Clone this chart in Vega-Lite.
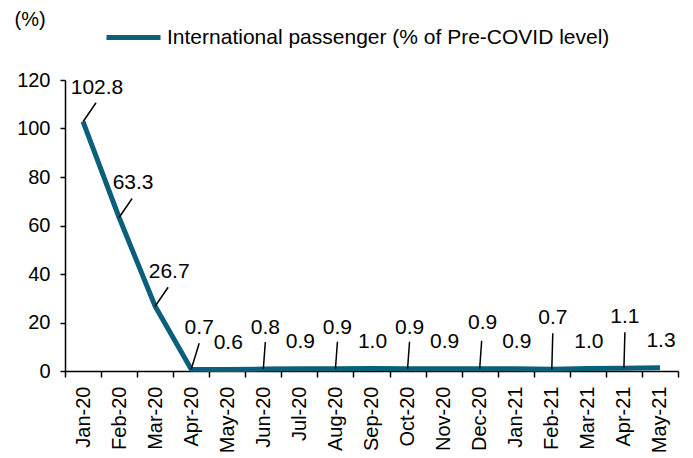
{
  "$schema": "https://vega.github.io/schema/vega-lite/v6.json",
  "width": 613,
  "height": 291,
  "autosize": "none",
  "padding": {"left": 65, "top": 80, "right": 15, "bottom": 87},
  "background": "white",
  "config": {
    "font": "Liberation Sans",
    "view": {"stroke": null},
    "axis": {"grid": false, "labelColor": "#000", "domainColor": "#000", "tickColor": "#000", "titleColor": "#000", "domainWidth": 1.5, "tickWidth": 1.5}
  },
  "data": {
    "values": [
      {"month": "Jan-20", "value": 102.8},
      {"month": "Feb-20", "value": 63.3},
      {"month": "Mar-20", "value": 26.7},
      {"month": "Apr-20", "value": 0.7},
      {"month": "May-20", "value": 0.6},
      {"month": "Jun-20", "value": 0.8},
      {"month": "Jul-20", "value": 0.9},
      {"month": "Aug-20", "value": 0.9},
      {"month": "Sep-20", "value": 1.0},
      {"month": "Oct-20", "value": 0.9},
      {"month": "Nov-20", "value": 0.9},
      {"month": "Dec-20", "value": 0.9},
      {"month": "Jan-21", "value": 0.9},
      {"month": "Feb-21", "value": 0.7},
      {"month": "Mar-21", "value": 1.0},
      {"month": "Apr-21", "value": 1.1},
      {"month": "May-21", "value": 1.3}
    ]
  },
  "encoding": {
    "x": {
      "field": "month",
      "type": "ordinal",
      "sort": ["Jan-20","Feb-20","Mar-20","Apr-20","May-20","Jun-20","Jul-20","Aug-20","Sep-20","Oct-20","Nov-20","Dec-20","Jan-21","Feb-21","Mar-21","Apr-21","May-21"],
      "scale": {"type": "band", "paddingInner": 0, "paddingOuter": 0},
      "axis": {"title": null, "labelAngle": -90, "labelFontSize": 20, "tickBand": "extent", "tickSize": 6, "labelPadding": 9}
    },
    "y": {
      "field": "value",
      "type": "quantitative",
      "scale": {"domain": [0, 120], "nice": false},
      "axis": {
        "values": [0, 20, 40, 60, 80, 100, 120],
        "title": "(%)",
        "titleAngle": 0,
        "titleAlign": "left",
        "titleBaseline": "middle",
        "titleX": -51,
        "titleY": -61,
        "titleFontSize": 20,
        "titleFontWeight": "normal",
        "labelFontSize": 20,
        "tickSize": 5,
        "labelPadding": 10
      }
    }
  },
  "layer": [
    {
      "mark": {"type": "line", "interpolate": "linear", "strokeWidth": 5, "strokeJoin": "round"},
      "encoding": {
        "color": {
          "datum": "International passenger (% of Pre-COVID level)",
          "scale": {"range": ["#0B5F7B"]},
          "legend": {"orient": "none", "legendX": 39, "legendY": -72, "title": null, "padding": 0, "symbolType": "stroke", "symbolStrokeWidth": 5, "symbolSize": 2916, "labelFontSize": 21, "labelLimit": 0, "labelOffset": 4, "labelColor": "#000"}
        }
      }
    },
    {
      "transform": [{"filter": {"field": "month", "oneOf": ["Jan-20", "Feb-20", "Mar-20"]}}],
      "mark": {"type": "rule", "color": "#000", "strokeWidth": 1.5, "x2Offset": 13, "y2Offset": -19},
      "encoding": {"x2": {"field": "month"}, "y2": {"field": "value"}}
    },
    {
      "transform": [{"filter": {"field": "month", "oneOf": ["Jun-20", "Aug-20", "Oct-20"]}}],
      "mark": {"type": "rule", "color": "#000", "strokeWidth": 1.5, "x2Offset": 2, "y2Offset": -27},
      "encoding": {"x2": {"field": "month"}, "y2": {"field": "value"}}
    },
    {
      "transform": [{"filter": {"field": "month", "oneOf": ["Dec-20"]}}],
      "mark": {"type": "rule", "color": "#000", "strokeWidth": 1.5, "x2Offset": 2, "y2Offset": -28},
      "encoding": {"x2": {"field": "month"}, "y2": {"field": "value"}}
    },
    {
      "transform": [{"filter": {"field": "month", "oneOf": ["Feb-21", "Apr-21"]}}],
      "mark": {"type": "rule", "color": "#000", "strokeWidth": 1.5, "x2Offset": 1, "y2Offset": -36},
      "encoding": {"x2": {"field": "month"}, "y2": {"field": "value"}}
    },
    {
      "transform": [{"filter": {"field": "month", "oneOf": ["Apr-20"]}}],
      "mark": {"type": "rule", "color": "#000", "strokeWidth": 1.5, "x2Offset": 8, "y2Offset": -26},
      "encoding": {"x2": {"field": "month"}, "y2": {"field": "value"}}
    },
    {
      "transform": [{"filter": {"field": "month", "oneOf": ["Jan-20", "Feb-20", "Mar-20"]}}],
      "mark": {"type": "text", "fontSize": 21, "color": "#000", "align": "center", "baseline": "middle", "dx": 14, "dy": -34},
      "encoding": {"text": {"field": "value", "type": "quantitative", "format": ".1f"}}
    },
    {
      "transform": [{"filter": {"field": "month", "oneOf": ["Jun-20", "Aug-20", "Oct-20"]}}],
      "mark": {"type": "text", "fontSize": 21, "color": "#000", "align": "center", "baseline": "middle", "dx": 2, "dy": -41},
      "encoding": {"text": {"field": "value", "type": "quantitative", "format": ".1f"}}
    },
    {
      "transform": [{"filter": {"field": "month", "oneOf": ["Dec-20"]}}],
      "mark": {"type": "text", "fontSize": 21, "color": "#000", "align": "center", "baseline": "middle", "dx": 3, "dy": -46},
      "encoding": {"text": {"field": "value", "type": "quantitative", "format": ".1f"}}
    },
    {
      "transform": [{"filter": {"field": "month", "oneOf": ["Feb-21", "Apr-21"]}}],
      "mark": {"type": "text", "fontSize": 21, "color": "#000", "align": "center", "baseline": "middle", "dx": 1, "dy": -51},
      "encoding": {"text": {"field": "value", "type": "quantitative", "format": ".1f"}}
    },
    {
      "transform": [{"filter": {"field": "month", "oneOf": ["Apr-20"]}}],
      "mark": {"type": "text", "fontSize": 21, "color": "#000", "align": "center", "baseline": "middle", "dx": 8, "dy": -41},
      "encoding": {"text": {"field": "value", "type": "quantitative", "format": ".1f"}}
    },
    {
      "transform": [{"filter": {"field": "month", "oneOf": ["May-20", "Jul-20", "Sep-20", "Nov-20", "Jan-21", "Mar-21", "May-21"]}}],
      "mark": {"type": "text", "fontSize": 21, "color": "#000", "align": "center", "baseline": "middle", "dx": 1, "dy": -27},
      "encoding": {"text": {"field": "value", "type": "quantitative", "format": ".1f"}}
    }
  ]
}
